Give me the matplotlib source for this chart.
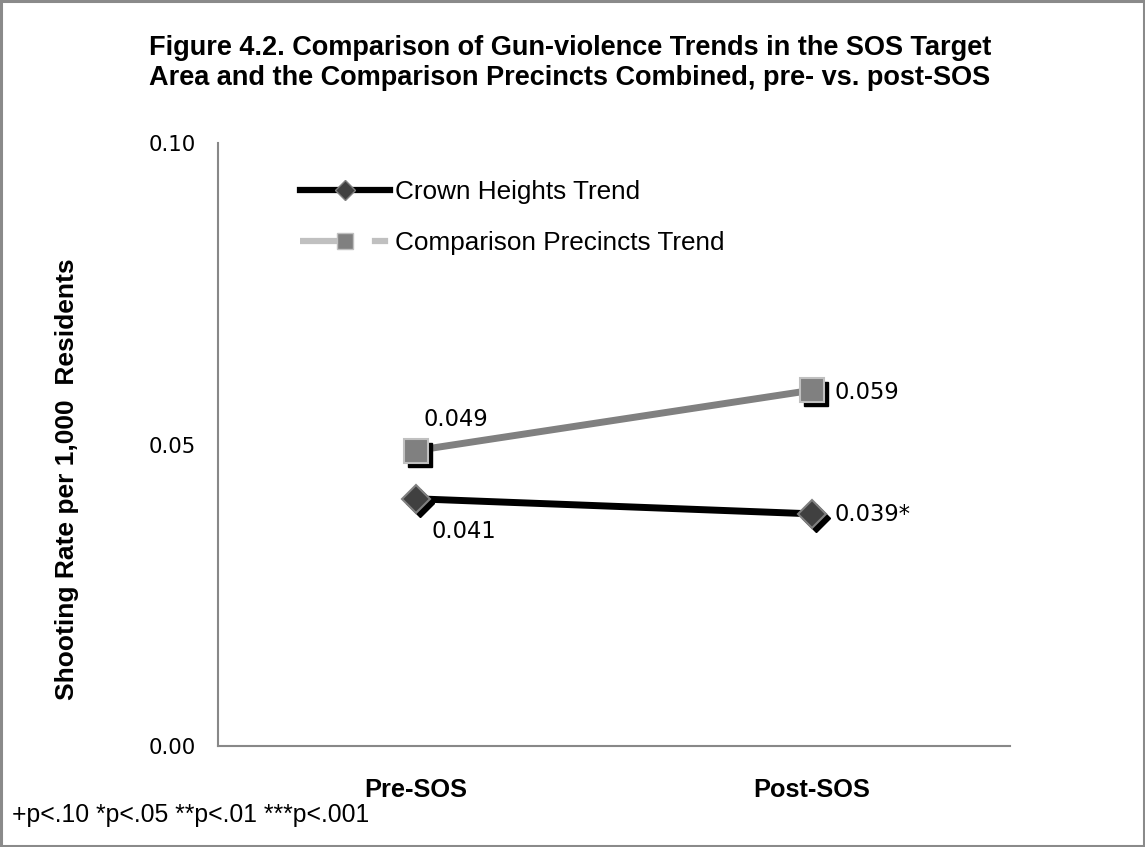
import matplotlib
matplotlib.use("Agg")
import matplotlib.pyplot as plt
from matplotlib import transforms
from matplotlib.lines import Line2D
from matplotlib.patches import Rectangle

categories = ["Pre-SOS", "Post-SOS"]
crown_heights = [0.041, 0.0385]
comparison = [0.049, 0.059]
crown_labels = ["0.041", "0.039*"]
comparison_labels = ["0.049", "0.059"]
yticks = [0.00, 0.05, 0.10]
ytick_labels = ["0.00", "0.05", "0.10"]

title = ("Figure 4.2. Comparison of Gun-violence Trends in the SOS Target\n"
         "Area and the Comparison Precincts Combined, pre- vs. post-SOS")
ylabel = "Shooting Rate per 1,000  Residents"
footnote = "+p<.10 *p<.05 **p<.01 ***p<.001"

W, H = 1145, 847
fig = plt.figure(figsize=(W / 100, H / 100), dpi=100)
fig.patch.set_facecolor("white")
fig.patches.append(Rectangle((0.001, 0.001), 0.998, 0.998, transform=fig.transFigure,
                             fill=False, edgecolor="#8a8a8a", linewidth=2.2))

ax = fig.add_axes([218 / W, 1 - 746 / H, (1010 - 218) / W, (746 - 143) / H])
x = list(range(len(categories)))

shadow = transforms.offset_copy(ax.transData, fig=fig, x=4, y=-4, units="dots")

# comparison series
ax.plot(x, comparison, color="#808080", lw=5, solid_capstyle="butt", zorder=2)
ax.plot(x, comparison, ls="none", marker="s", ms=17, mfc="black", mec="black",
        transform=shadow, zorder=3)
ax.plot(x, comparison, ls="none", marker="s", ms=17, mfc="#808080", mec="#c0c0c0",
        mew=1.5, zorder=4)

# crown heights series
ax.plot(x, crown_heights, color="black", lw=5, solid_capstyle="butt", zorder=2)
ax.plot(x, crown_heights, ls="none", marker="D", ms=14, mfc="black", mec="black",
        transform=shadow, zorder=3)
ax.plot(x, crown_heights, ls="none", marker="D", ms=14, mfc="#404040", mec="#808080",
        mew=1.5, zorder=4)

lab_font = dict(family="DejaVu Sans", fontsize=16.3, color="black")
ax.annotate(comparison_labels[0], (x[0], comparison[0]), xytext=(40, 31),
            textcoords="offset pixels", ha="center", va="center", **lab_font)
ax.annotate(comparison_labels[1], (x[1], comparison[1]), xytext=(22, -2),
            textcoords="offset pixels", ha="left", va="center", **lab_font)
ax.annotate(crown_labels[0], (x[0], crown_heights[0]), xytext=(48, -33),
            textcoords="offset pixels", ha="center", va="center", **lab_font)
ax.annotate(crown_labels[1], (x[1], crown_heights[1]), xytext=(22, -1),
            textcoords="offset pixels", ha="left", va="center", **lab_font)

ax.set_xlim(-0.5, 1.5)
ax.set_ylim(0, 0.10)
ax.set_yticks(yticks)
ax.set_yticklabels(ytick_labels, family="DejaVu Sans", fontsize=15.3)
ax.set_xticks(x)
ax.set_xticklabels(categories, family="Liberation Sans", fontweight="bold", fontsize=18.3)
ax.tick_params(axis="both", length=0)
ax.tick_params(axis="y", pad=16)
ax.tick_params(axis="x", pad=23)
for s in ["top", "right"]:
    ax.spines[s].set_visible(False)
for s in ["left", "bottom"]:
    ax.spines[s].set_color("#888888")
    ax.spines[s].set_linewidth(1.5)

fig.text(67 / W, 1 - 479 / H, ylabel, rotation=90, ha="center", va="center",
         family="Liberation Sans", fontweight="bold", fontsize=19)

fig.text(570 / W, 1 - 63 / H, title, ha="center", va="center", family="Liberation Sans",
         fontweight="bold", fontsize=19.5, linespacing=1.2)
fig.text(12 / W, 1 - 815 / H, footnote, ha="left", va="center",
         family="Liberation Sans", fontsize=17.8)

handles = [
    Line2D([], [], color="black", lw=4.5, marker="D", ms=10, mfc="#404040", mec="#808080"),
    Line2D([], [], color="#c0c0c0", lw=4.5, marker="s", ms=11, mfc="#808080", mec="#c0c0c0",
           dashes=(8, 3.5, 2.6, 20), dash_capstyle="butt"),
]
fig.legend(handles, ["Crown Heights Trend", "Comparison Precincts Trend"],
           loc="upper left", bbox_to_anchor=(300 / W, 1 - 180 / H), frameon=False,
           prop={"family": "Liberation Sans", "size": 18.8}, handlelength=3.45,
           handletextpad=0.2, labelspacing=1.05, borderpad=0, borderaxespad=0)

fig.savefig("out.png", dpi=100)
